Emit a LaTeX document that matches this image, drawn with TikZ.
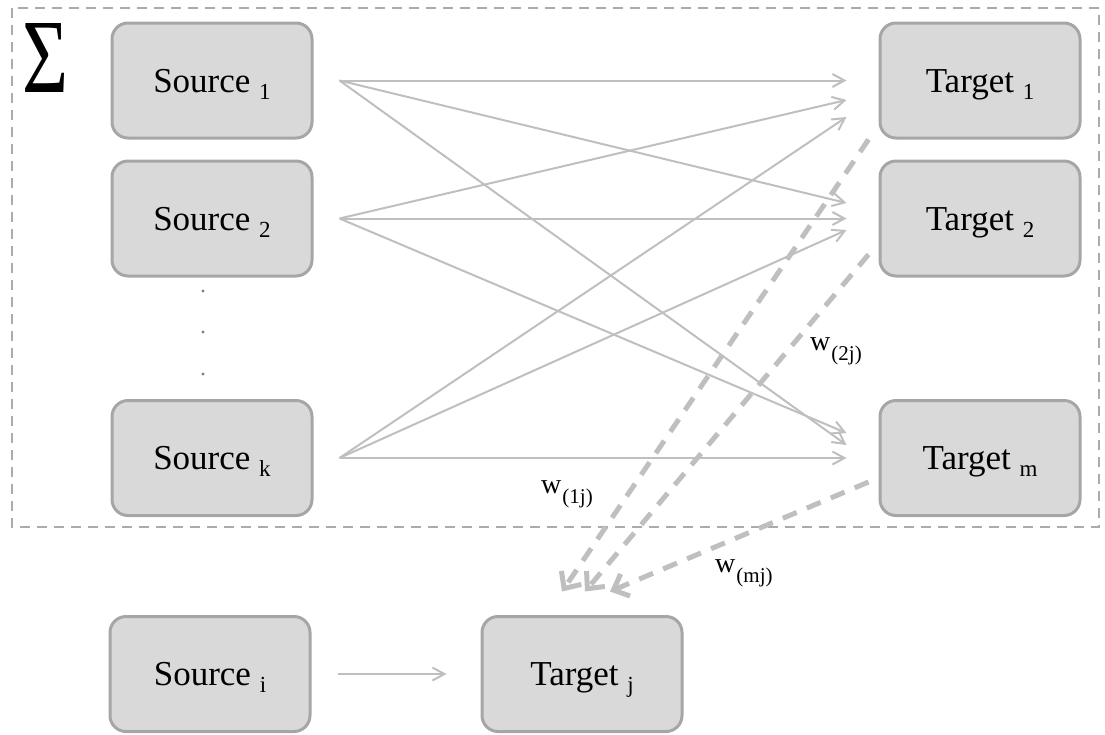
\documentclass[tikz,border=0pt]{standalone}
\usepackage{fontspec}
\usepackage{graphicx}
\setmainfont{Liberation Serif}
\usetikzlibrary{arrows.meta,calc}

\definecolor{boxfill}{HTML}{D9D9D9}
\definecolor{boxline}{HTML}{A6A6A6}
\definecolor{linkgray}{HTML}{BFBFBF}
\definecolor{framegray}{HTML}{ABABAB}
\definecolor{dotgray}{HTML}{7F7F7F}

% box caption with a lowered index
\newcommand{\boxlabel}[2]{#1\ \smash{\raisebox{-7pt}{\fontsize{23}{23}\selectfont #2}}}
% weight label w_(..)
\newcommand{\weightlabel}[1]{{\fontsize{28}{28}\selectfont w}\kern1pt\raisebox{-10pt}{\fontsize{21}{21}\selectfont (#1)}}

\begin{document}
\begin{tikzpicture}[x=1pt,y=-1pt,
  unit/.style={draw=boxline, fill=boxfill, line width=3pt, rounded corners=16pt,
    minimum width=200pt, minimum height=115pt, inner sep=0pt,
    font=\fontsize{35}{35}\selectfont, text height=23pt, text depth=0pt},
  link/.style={draw=linkgray, line width=2pt,
    -{Straight Barb[length=12pt,width=13pt]}},
  weightlink/.style={draw=linkgray, line width=5pt, dash pattern=on 15pt off 11pt,
    -{Straight Barb[length=13pt,width=24pt]}},
  frame/.style={draw=framegray, line width=2.5pt, dash pattern=on 10pt off 7pt},
  wlabel/.style={inner sep=0pt, anchor=base west}
]
\useasboundingbox (0,0) rectangle (1105,734);

% summation frame
\draw[frame] (12,8) rectangle (1099,527);
\node[inner sep=0pt] (sigma) at (45,57.5) {\resizebox{46pt}{69pt}{Σ}};

% sources and targets
\node[unit] (s1) at (212,80.5) {\boxlabel{Source}{1}};
\node[unit] (s2) at (212,218.5) {\boxlabel{Source}{2}};
\node[unit] (sk) at (212,458) {\boxlabel{Source}{k}};
\node[unit] (t1) at (980,80.5) {\boxlabel{Target}{1}};
\node[unit] (t2) at (980,218.5) {\boxlabel{Target}{2}};
\node[unit] (tm) at (980,458) {\boxlabel{Target}{m}};
\node[unit] (si) at (210,674) {\boxlabel{Source}{i}};
\node[unit] (tj) at (582,674) {\boxlabel{Target}{j}};

% vertical ellipsis
\fill[dotgray] (203,291) circle (1.6);
\fill[dotgray] (203,332) circle (1.6);
\fill[dotgray] (203,374) circle (1.6);

% fan-out points
\coordinate (o1) at ($(s1.east)+(26,0)$);
\coordinate (o2) at ($(s2.east)+(26,0)$);
\coordinate (ok) at ($(sk.east)+(26,0)$);

% links into the targets
\draw[link] (o1) -- ($(t1.west)+(-32,0)$);
\draw[link] (o2) -- ($(t1.west)+(-32,19.5)$);
\draw[link] (ok) -- ($(t1.west)+(-32,36.5)$);
\draw[link] (o1) -- ($(t2.west)+(-32,-15.5)$);
\draw[link] (o2) -- ($(t2.west)+(-32,0)$);
\draw[link] (ok) -- ($(t2.west)+(-32,11.5)$);
\draw[link] (o1) -- ($(tm.west)+(-32,-13)$);
\draw[link] (o2) -- ($(tm.west)+(-32,-25)$);
\draw[link] (ok) -- ($(tm.west)+(-32,0)$);

% single link
\draw[link] ($(si.east)+(26,0)$) -- ($(tj.west)+(-34,0)$);

% weighted links into target j
\draw[weightlink] ($(t1.south west)+(-10,0)$) -- ($(tj.north)+(-20,-23.5)$);
\draw[weightlink] ($(t2.south west)+(-10,-23)$) -- ($(tj.north)+(3,-23.5)$);
\draw[weightlink] ($(tm.west)+(-10,24)$) -- ($(tj.north)+(28,-23.5)$);

% weight labels
\node[wlabel] (w1) at (541,493) {\weightlabel{1j}};
\node[wlabel] (w2) at (810,350) {\weightlabel{2j}};
\node[wlabel] (wm) at (715,572) {\weightlabel{mj}};
\end{tikzpicture}
\end{document}
